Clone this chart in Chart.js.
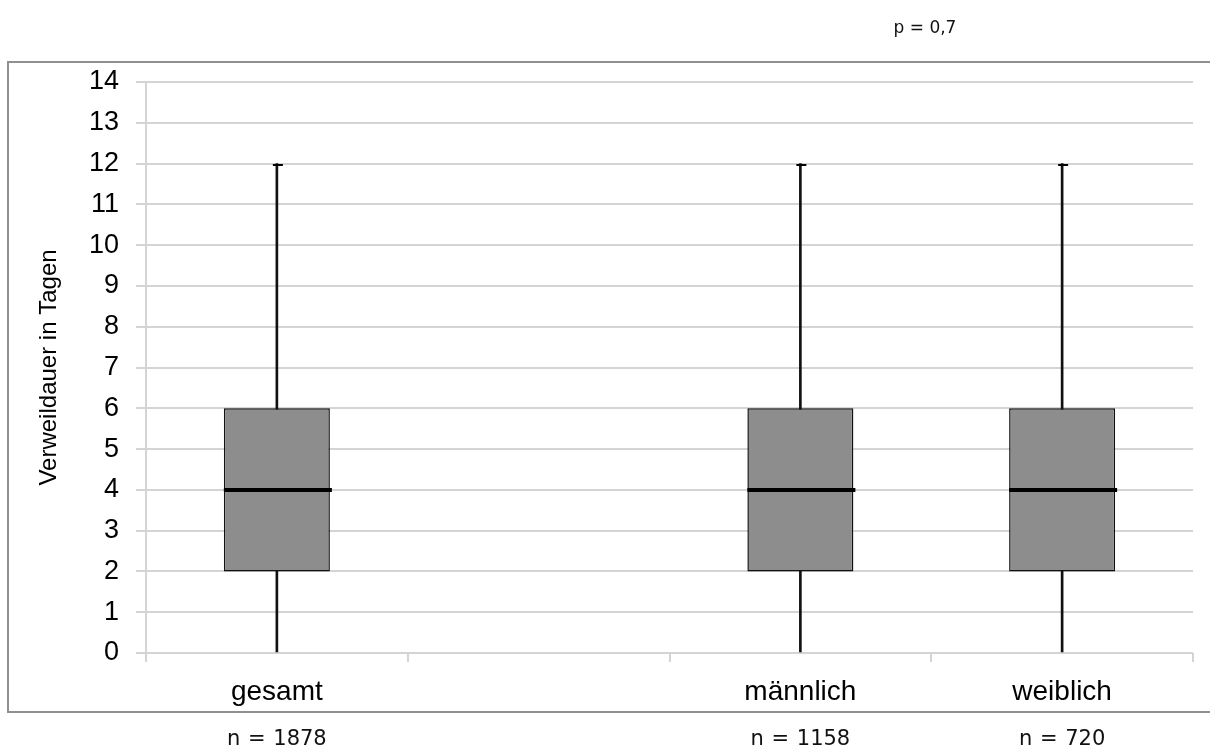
<!DOCTYPE html>
<html>
<head>
<meta charset="utf-8">
<script src="https://cdn.jsdelivr.net/npm/chart.js@4/dist/chart.umd.min.js"></script>
<style>
  html, body { margin: 0; padding: 0; background: #fff; }
  body { width: 1210px; height: 749px; position: relative; overflow: hidden; }
  #frame {
    position: absolute; left: 7px; top: 61px; width: 1210px; height: 652px;
    border: 2px solid #909090; box-sizing: border-box;
  }
  #chart { position: absolute; left: 0; top: 0; }
  .note {
    position: absolute; font-family: "DejaVu Sans", sans-serif; color: #111;
    white-space: nowrap; transform: translate(-50%, -50%);
  }
  .n { font-size: 21px; word-spacing: 1px; top: 738px; }
  #pval { font-size: 17px; left: 925px; top: 27px; }
</style>
</head>
<body>
<div id="frame"></div>
<canvas id="chart" width="1210" height="749"></canvas>
<div id="pval" class="note"></div>
<div id="notes"></div>
<script>
// categories (the empty slot is a gap in the original chart)
const categories = ["gesamt", "", "männlich", "weiblich"];

// box plot values (Verweildauer in Tagen)
const minValues = [0, null, 0, 0];
const q1Values = [2, null, 2, 2];
const medianValues = [4, null, 4, 4];
const q3Values = [6, null, 6, 6];
const maxValues = [12, null, 12, 12];

// annotations
const sampleSizes = ["n = 1878", "", "n = 1158", "n = 720"];
const pValue = "p = 0,7";

// y axis
const yMin = 0;
const yMax = 14;
const yStep = 1;

const boxRanges = q1Values.map((q, i) => q === null ? null : [q, q3Values[i]]);
const whiskerRanges = minValues.map((m, i) => m === null ? null : [m, maxValues[i]]);

// median line and whisker caps, placed through the chart's scales
const boxExtras = {
  id: "boxExtras",
  afterDatasetsDraw(chart) {
    const ctx = chart.ctx;
    const y = chart.scales.y;
    const boxes = chart.getDatasetMeta(0).data;

    ctx.save();
    ctx.strokeStyle = "#000";
    boxes.forEach((bar, i) => {
      if (medianValues[i] === null) return;
      const half = bar.width / 2;

      ctx.lineWidth = 4;
      ctx.beginPath();
      const my = Math.round(y.getPixelForValue(medianValues[i]));
      ctx.moveTo(bar.x - half, my);
      ctx.lineTo(bar.x + half + 2, my);
      ctx.stroke();

      ctx.lineWidth = 2;
      const top = Math.round(y.getPixelForValue(maxValues[i]));
      ctx.beginPath();
      ctx.moveTo(bar.x - 4, top + 1);
      ctx.lineTo(bar.x + 6, top + 1);
      ctx.stroke();
    });
    ctx.restore();
  }
};

const chart = new Chart(document.getElementById("chart"), {
  type: "bar",
  data: {
    labels: categories,
    datasets: [
      {
        label: "Box",
        data: boxRanges,
        backgroundColor: "#8d8d8d",
        borderColor: "#111",
        borderWidth: 1.5,
        borderSkipped: false,
        barPercentage: 0.405,
        categoryPercentage: 1,
        grouped: false
      },
      {
        label: "Whisker",
        data: whiskerRanges,
        backgroundColor: "#111",
        borderWidth: 0,
        barThickness: 2,
        grouped: false
      }
    ]
  },
  options: {
    responsive: false,
    devicePixelRatio: 1,
    animation: false,
    layout: { padding: { top: 82, right: 17, left: 0, bottom: 0 } },
    plugins: {
      legend: { display: false },
      tooltip: { enabled: false }
    },
    scales: {
      x: {
        grid: {
          offset: true,
          drawOnChartArea: false,
          drawTicks: true,
          tickLength: 9,
          color: "#d4d4d4",
          lineWidth: 2
        },
        border: { display: false },
        ticks: {
          padding: 13,
          color: "#000",
          font: { family: "'Liberation Sans', Arial, sans-serif", size: 28 }
        },
        afterFit(scale) { scale.height = 96; }
      },
      y: {
        min: yMin,
        max: yMax,
        ticks: {
          stepSize: yStep,
          padding: 17,
          color: "#000",
          font: { family: "'Liberation Sans', Arial, sans-serif", size: 27 }
        },
        grid: { color: "#d4d4d4", lineWidth: 2, tickLength: 10 },
        border: { color: "#d4d4d4", width: 2 },
        title: {
          display: true,
          text: "Verweildauer in Tagen",
          color: "#000",
          padding: { top: 35, bottom: 0 },
          font: { family: "'Liberation Sans', Arial, sans-serif", size: 24 }
        },
        afterFit(scale) { scale.width = 146; }
      }
    }
  },
  plugins: [boxExtras]
});

// sample sizes under each category, centred on the category's pixel
const notes = document.getElementById("notes");
sampleSizes.forEach((txt, i) => {
  if (!txt) return;
  const d = document.createElement("div");
  d.className = "note n";
  d.textContent = txt;
  d.style.left = chart.scales.x.getPixelForValue(i) + "px";
  notes.appendChild(d);
});
document.getElementById("pval").textContent = pValue;
</script>
</body>
</html>
